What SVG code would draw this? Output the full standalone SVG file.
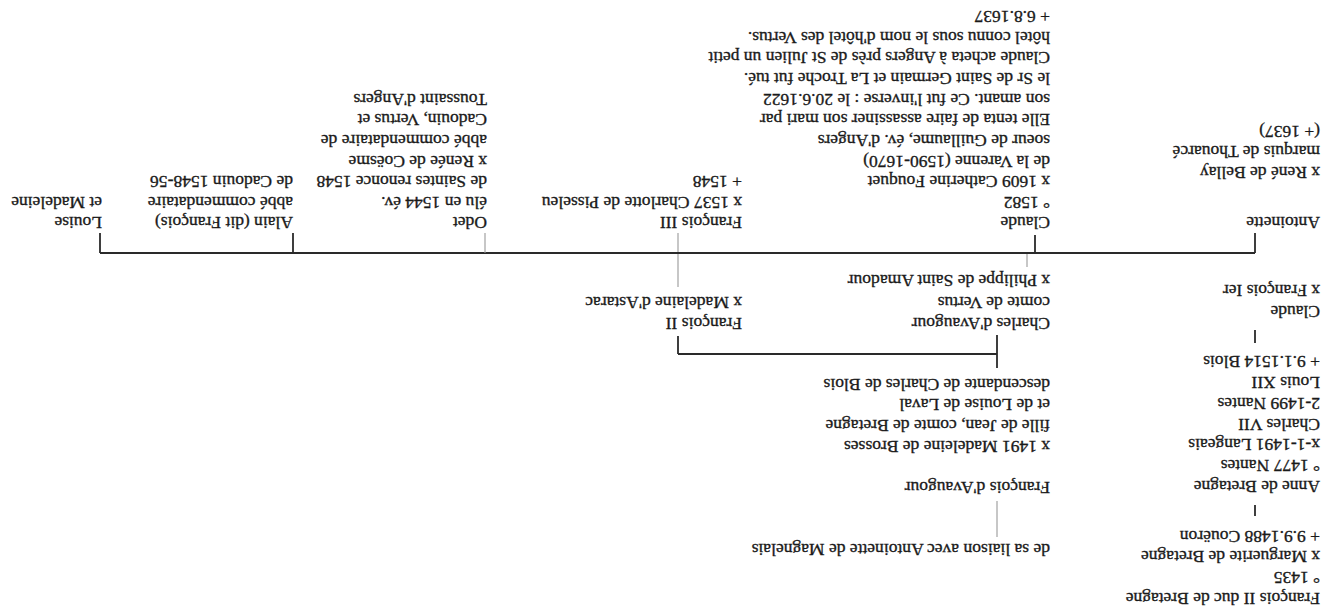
<svg xmlns="http://www.w3.org/2000/svg" width="1330" height="610" viewBox="0 0 1330 610">
<style>
text{font-family:"Liberation Serif","Times New Roman",serif;font-size:17.5px;fill:#1a1a1a;stroke:#1a1a1a;stroke-width:0.35}
.c{stroke:#2a2a2a;stroke-width:1.8;fill:none}
.f{stroke:#999;stroke-width:1.1;fill:none}
</style>
<rect width="1330" height="610" fill="#fff"/>
<g transform="rotate(180 665 305)">
<g id="connectors">
<line class="c" x1="75" y1="94" x2="75" y2="105"/>
<line class="c" x1="75" y1="267" x2="75" y2="280"/>
<line class="f" x1="333" y1="73" x2="333" y2="109"/>
<line class="c" x1="333" y1="242" x2="333" y2="275"/>
<line class="c" x1="333" y1="256" x2="652" y2="256"/>
<line class="c" x1="652" y1="256" x2="652" y2="274"/>
<line class="f" x1="652" y1="323" x2="652" y2="377"/>
<line class="f" x1="303" y1="343" x2="303" y2="357"/>
<line class="c" x1="75" y1="357" x2="1230" y2="357"/>
<line class="c" x1="75" y1="357" x2="75" y2="377"/>
<line class="c" x1="295" y1="357" x2="295" y2="375"/>
<line class="f" x1="845" y1="357" x2="845" y2="377"/>
<line class="c" x1="1037" y1="357" x2="1037" y2="377"/>
<line class="c" x1="1230" y1="357" x2="1230" y2="377"/>
</g>
<g id="n-francois2-bretagne">
<text x="10" y="17">François II duc de Bretagne</text>
<text x="10" y="38">° 1435</text>
<text x="10" y="59">x Marguerite de Bretagne</text>
<text x="10" y="79">+ 9.9.1488 Couëron</text>
</g>
<g id="n-anne">
<text x="10" y="129">Anne de Bretagne</text>
<text x="10" y="150">° 1477 Nantes</text>
<text x="10" y="171">x-1-1491 Langeais</text>
<text x="10" y="191">Charles VII</text>
<text x="10" y="212">2-1499 Nantes</text>
<text x="10" y="233">Louis XII</text>
<text x="10" y="254">+ 9.1.1514 Blois</text>
</g>
<g id="n-claude-france">
<text x="10" y="304">Claude</text>
<text x="10" y="325">x François Ier</text>
</g>
<g id="n-antoinette">
<text x="10" y="393">Antoinette</text>
<text x="10" y="443">x René de Bellay</text>
<text x="10" y="464">marquis de Thouarcé</text>
<text x="10" y="484">(+ 1637)</text>
</g>
<g id="n-liaison">
<text x="280" y="66">de sa liaison avec Antoinette de Magnelais</text>
</g>
<g id="n-francois-avaugour">
<text x="280" y="128">François d'Avaugour</text>
<text x="280" y="169">x 1491 Madeleine de Brosses</text>
<text x="280" y="190">fille de Jean, comte de Bretagne</text>
<text x="280" y="211">et de Louise de Laval</text>
<text x="280" y="231">descendante de Charles de Blois</text>
</g>
<g id="n-charles">
<text x="280" y="292">Charles d'Avaugour</text>
<text x="280" y="313">comte de Vertus</text>
<text x="280" y="335">x Philippe de Saint Amadour</text>
</g>
<g id="n-francois2">
<text x="588" y="292">François II</text>
<text x="588" y="313">x Madelaine d'Astarac</text>
</g>
<g id="n-claude">
<text x="280" y="393">Claude</text>
<text x="280" y="413">° 1582</text>
<text x="280" y="434">x 1609 Catherine Fouquet</text>
<text x="280" y="454">de la Varenne (1590-1670)</text>
<text x="280" y="475">soeur de Guillaume, év. d'Angers</text>
<text x="280" y="496">Elle tenta de faire assassiner son mari par</text>
<text x="280" y="516">son amant. Ce fut l'inverse : le 20.6.1622</text>
<text x="280" y="537">le Sr de Saint Germain et La Troche fut tué.</text>
<text x="280" y="558">Claude acheta à Angers près de St Julien un petit</text>
<text x="280" y="578">hôtel connu sous le nom d'hôtel des Vertus.</text>
<text x="280" y="599">+ 6.8.1637</text>
</g>
<g id="n-francois3">
<text x="588" y="393">François III</text>
<text x="588" y="413">x 1537 Charlotte de Pisseleu</text>
<text x="588" y="434">+ 1548</text>
</g>
<g id="n-odet">
<text x="843" y="393">Odet</text>
<text x="843" y="413">élu en 1544 év.</text>
<text x="843" y="434">de Saintes renonce 1548</text>
<text x="843" y="454">x Renée de Coësme</text>
<text x="843" y="475">abbé commendataire de</text>
<text x="843" y="496">Cadouin, Vertus et</text>
<text x="843" y="516">Toussaint d'Angers</text>
</g>
<g id="n-alain">
<text x="1037" y="393">Alain (dit François)</text>
<text x="1037" y="413">abbé commendataire</text>
<text x="1037" y="434">de Cadouin 1548-56</text>
</g>
<g id="n-louise">
<text x="1228" y="393">Louise</text>
<text x="1228" y="413">et Madeleine</text>
</g>
</g>
</svg>
